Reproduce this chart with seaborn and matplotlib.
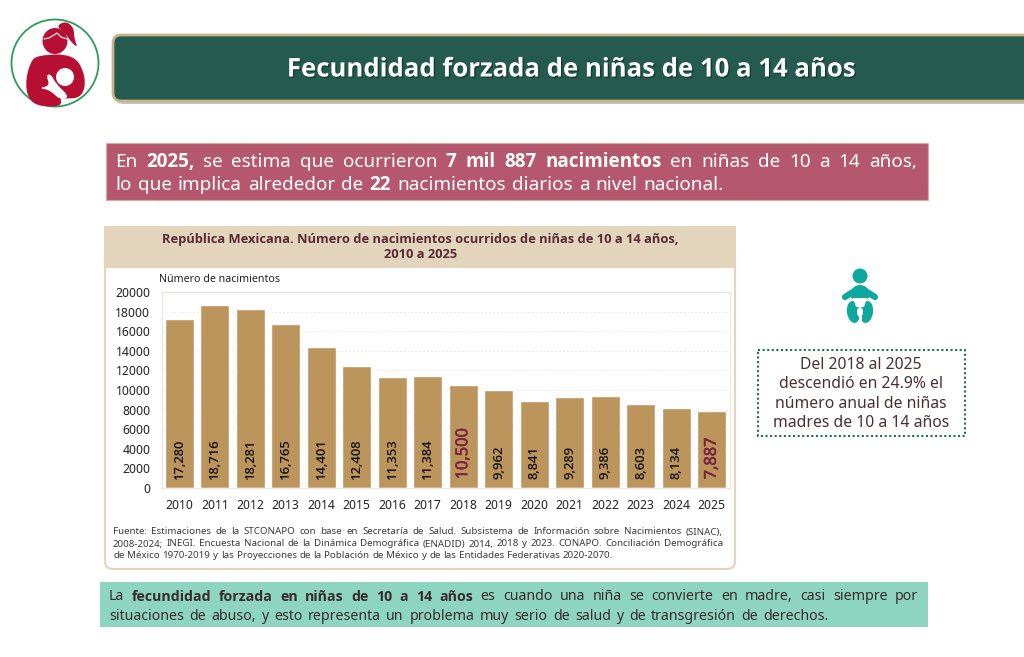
import matplotlib
matplotlib.use("Agg")
import matplotlib.pyplot as plt
import pandas as pd
import seaborn as sns
from matplotlib.patches import Circle, Ellipse, FancyBboxPatch, PathPatch, Polygon, Rectangle
from matplotlib.path import Path
import matplotlib.patheffects as pe

years = [2010, 2011, 2012, 2013, 2014, 2015, 2016, 2017,
         2018, 2019, 2020, 2021, 2022, 2023, 2024, 2025]
births = [17280, 18716, 18281, 16765, 14401, 12408, 11353, 11384,
          10500, 9962, 8841, 9289, 9386, 8603, 8134, 7887]
highlight_years = [2018, 2025]
y_ticks = list(range(0, 20001, 2000))

intro_lines = [
    [("En", False), ("2025,", True), ("se", False), ("estima", False), ("que", False), ("ocurrieron", False),
     ("7", True), ("mil", True), ("887", True), ("nacimientos", True), ("en", False), ("niñas", False),
     ("de", False), ("10", False), ("a", False), ("14", False), ("años,", False)],
    [("lo", False), ("que", False), ("implica", False), ("alrededor", False), ("de", False), ("22", True),
     ("nacimientos", False), ("diarios", False), ("a", False), ("nivel", False), ("nacional.", False)],
]
note_lines = [
    [("La", False), ("fecundidad", True), ("forzada", True), ("en", True), ("niñas", True), ("de", True),
     ("10", True), ("a", True), ("14", True), ("años", True), ("es", False), ("cuando", False), ("una", False),
     ("niña", False), ("se", False), ("convierte", False), ("en", False), ("madre,", False), ("casi", False),
     ("siempre", False), ("por", False)],
    [("situaciones", False), ("de", False), ("abuso,", False), ("y", False), ("esto", False), ("representa", False),
     ("un", False), ("problema", False), ("muy", False), ("serio", False), ("de", False), ("salud", False),
     ("y", False), ("de", False), ("transgresión", False), ("de", False), ("derechos.", False)],
]
source_lines = [
    "Fuente: Estimaciones de la STCONAPO con base en Secretaría de Salud. Subsistema de Información sobre Nacimientos (SINAC),",
    "2008-2024; INEGI. Encuesta Nacional de la Dinámica Demográfica (ENADID) 2014, 2018 y 2023. CONAPO. Conciliación Demográfica",
    "de México 1970-2019 y las Proyecciones de la Población de México y de las Entidades Federativas 2020-2070.",
]
side_lines = ["Del 2018 al 2025", "descendió en 24.9% el", "número anual de niñas", "madres de 10 a 14 años"]

BAR = "#BC955C"
TAN = "#E3D5BC"
GREEN = "#245B4E"
MAROON = "#7B2340"
CRIMSON = "#B70F33"
TEAL = "#0FA89E"
DARK = "#4A2F33"
BOLD_FONT = "Open Sans"

sns.set_theme(style="white")
plt.rcParams["font.family"] = ["Noto Sans", "DejaVu Sans"]

W, H = 1024, 657
fig = plt.figure(figsize=(W / 100, H / 100), dpi=100, facecolor="white")

# page layer in pixel coordinates, y pointing down
page = fig.add_axes([0, 0, 1, 1], zorder=0)
page.set_xlim(0, W)
page.set_ylim(H, 0)
page.axis("off")


def rounded(x0, y0, x1, y1, r, **kw):
    p = FancyBboxPatch((x0 + r, y0 + r), x1 - x0 - 2 * r, y1 - y0 - 2 * r,
                       boxstyle=f"round,pad={r},rounding_size={r}", **kw)
    page.add_patch(p)
    return p


def blob(points, color):
    # closed smooth shape, the points act as quadratic control points
    n = len(points)
    mids = [((points[i][0] + points[(i + 1) % n][0]) / 2, (points[i][1] + points[(i + 1) % n][1]) / 2)
            for i in range(n)]
    verts = [mids[-1]]
    codes = [Path.MOVETO]
    for i in range(n):
        verts += [points[i], mids[i]]
        codes += [Path.CURVE3, Path.CURVE3]
    page.add_patch(PathPatch(Path(verts, codes), fc=color, ec="none"))


def justified(words, x0, x1, y, size, color):
    # place word by word so the line fills x0..x1 like the justified text in the slide
    renderer = fig.canvas.get_renderer()
    items = []
    total = 0
    for word, bold in words:
        if bold:
            t = page.text(x0, y, word, fontsize=size, color=color, va="center", ha="left",
                          family=BOLD_FONT, fontweight="bold")
        else:
            t = page.text(x0, y, word, fontsize=size, color=color, va="center", ha="left")
        w = t.get_window_extent(renderer).width
        items.append((t, w))
        total += w
    gap = (x1 - x0 - total) / (len(items) - 1)
    x = x0
    for t, w in items:
        t.set_x(x)
        x += w + gap


# mother icon
page.add_patch(Circle((55, 63), 43.5, fc="white", ec="#2E9B57", lw=1.3))
page.add_patch(Ellipse((55, 41), 25, 26, fc=CRIMSON, ec="none"))
blob([(56, 26), (66, 21), (74, 28), (74, 38), (78, 48), (71, 42), (65, 33)], CRIMSON)
page.plot([44, 49, 54, 57, 61, 67], [39, 38, 35, 33, 37, 39], color="white", lw=0.8)
blob([(38, 55), (74, 54), (86, 76), (83, 97), (66, 99), (60, 97), (62, 106), (44, 107), (30, 102), (25, 85), (30, 62)],
     CRIMSON)
page.add_patch(Circle((65, 77), 9, fc="white", ec="none"))
blob([(38, 88), (50, 86), (46, 75), (51, 74), (56, 84), (70, 97), (60, 100), (50, 90)], "white")

# title banner
rounded(115, 39, 1034, 104, 8, fc="#9A9A9A", ec="none", alpha=0.6)
rounded(113, 35, 1032, 101, 8, fc=GREEN, ec="#C9B48A", lw=2)
page.text(571, 69, "Fecundidad forzada de niñas de 10 a 14 años", color="white", fontsize=18.55,
          family=BOLD_FONT, fontweight="bold", ha="center", va="center",
          path_effects=[pe.withSimplePatchShadow(offset=(1, -1), shadow_rgbFace="#123028", alpha=0.7)])

# intro box
page.add_patch(Rectangle((106, 143), 822, 57, fc="#B5586F", ec="#C9B48A", lw=1, ls=(0, (1, 1))))
justified(intro_lines[0], 115, 917, 162, 13.6, "white")
justified(intro_lines[1], 115, 724, 185, 13.6, "white")

# chart panel
rounded(105, 245, 735, 569, 8, fc="white", ec=TAN, lw=1.6)
page.add_patch(Rectangle((104, 226), 632, 42, fc=TAN, ec="none"))
page.text(420.5, 240, "República Mexicana. Número de nacimientos ocurridos de niñas de 10 a 14 años,",
          ha="center", va="center", fontsize=9.3, family=BOLD_FONT, fontweight="bold", color="#5A2A35")
page.text(420.5, 255, "2010 a 2025", ha="center", va="center", fontsize=9.3, family=BOLD_FONT,
          fontweight="bold", color="#5A2A35")
page.text(159, 279.5, "Número de nacimientos", ha="left", va="center", fontsize=7.7, color="#222222")
for i, line in enumerate(source_lines):
    justified([(w, False) for w in line.split()], 113, 723 if i < 2 else 613, 532 + i * 12, 7.0, "#3A3A3A")

# chart
ax = fig.add_axes([161.5 / W, 1 - 488 / H, (729.5 - 161.5) / W, (488 - 292) / H], zorder=2)
ax.patch.set_alpha(0)
df = pd.DataFrame({"year": years, "births": births})
sns.barplot(data=df, x="year", y="births", color=BAR, saturation=1, width=0.83, ax=ax)
ax.set_xlim(-0.5, len(years) - 0.5)
ax.set_ylim(0, 20000)
ax.set_yticks(y_ticks)
ax.set_xlabel("")
ax.set_ylabel("")
ax.grid(axis="y", color="#EBEBEB", lw=0.7, ls=(0, (2, 2)))
ax.set_axisbelow(True)
for side in ax.spines.values():
    side.set_color("#EAE7E4")
    side.set_linewidth(1)
ax.tick_params(axis="x", length=0, pad=8, labelsize=8.8, labelcolor="#222222")
ax.tick_params(axis="y", length=0, pad=8, labelsize=8.8, labelcolor="#222222")

for i, (year, value) in enumerate(zip(years, births)):
    if year in highlight_years:
        ax.text(i, 880, f"{value:,}", rotation=90, ha="center", va="bottom", fontsize=11.8, color=MAROON,
                path_effects=[pe.withStroke(linewidth=0.4, foreground=MAROON)])
    else:
        ax.text(i, 880, f"{value:,}", rotation=90, ha="center", va="bottom",
                fontsize=9.4, color="#111111", family=BOLD_FONT, fontweight="semibold")

# baby icon
page.add_patch(Circle((860, 276), 7.5, fc=TEAL, ec="none"))
blob([(853, 285), (867, 285), (872, 300), (848, 300)], TEAL)
page.plot([845, 856], [297, 290], color=TEAL, lw=4.5, solid_capstyle="round")
page.plot([875, 864], [297, 290], color=TEAL, lw=4.5, solid_capstyle="round")
page.add_patch(Ellipse((853.5, 312), 13, 22, angle=-8, fc=TEAL, ec="none"))
page.add_patch(Ellipse((866.5, 312), 13, 22, angle=8, fc=TEAL, ec="none"))
page.add_patch(Polygon([(853, 298), (867, 298), (864, 307), (856, 307)], fc="white", ec="none"))
page.add_patch(Ellipse((860, 312), 6, 10, fc="white", ec="none"))
page.add_patch(Rectangle((858.5, 315), 3, 9, fc="white", ec="none"))

# side note
page.add_patch(Rectangle((758, 350), 207, 86, fc="white", ec="#1F6F50", lw=1.5, ls=(0, (1, 1.2))))
for i, line in enumerate(side_lines):
    page.text(861, 365 + i * 19.4, line, ha="center", va="center", fontsize=11.3, color=DARK)

# bottom note
page.add_patch(Rectangle((100, 582), 828, 45, fc="#8DD5C0", ec="none"))
justified(note_lines[0], 109, 918, 597, 10.2, "#3A2A2D")
justified(note_lines[1], 109, 829, 616, 10.2, "#3A2A2D")

fig.savefig("out.png", dpi=100)
